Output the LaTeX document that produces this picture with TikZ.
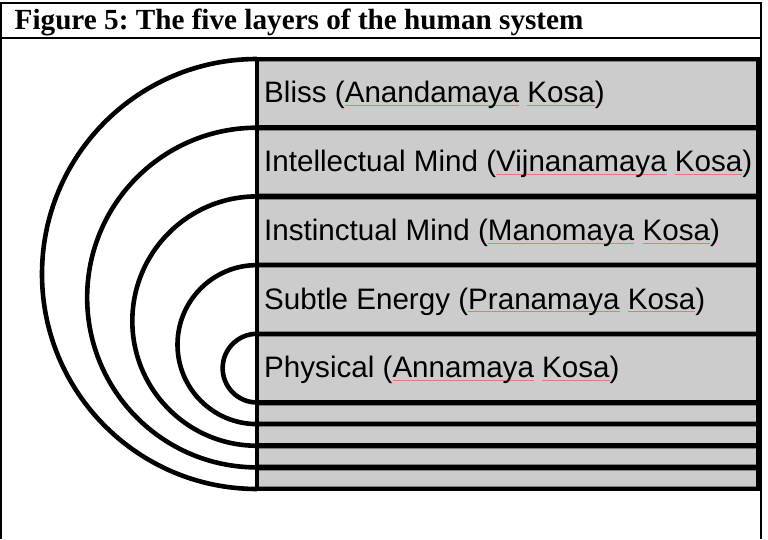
\documentclass[tikz,border=0pt]{standalone}
\usepackage{fontspec}
\setmainfont{Liberation Serif}
\newfontfamily\labelfont{Liberation Sans}
\frenchspacing
\definecolor{rowgray}{RGB}{204,204,204}
\definecolor{rimgray}{RGB}{128,128,128}
\definecolor{squig}{RGB}{232,120,120}
\newcommand\spellmark[1]{\setbox0\hbox{#1}\rlap{\textcolor{squig}{\rule[-2.8pt]{\wd0}{0.7pt}}}\box0\relax}
\tikzset{
  frameline/.style={line width=2pt,black},
  thick line/.style={line width=4.6pt,black},
  rowbox/.style={fill=rowgray,draw=rimgray,line width=0.8pt},
  layerlabel/.style={anchor=base west,inner sep=0pt,font=\labelfont\fontsize{29.6}{34}\selectfont},
  titletext/.style={anchor=base west,inner sep=0pt,font=\bfseries\fontsize{29.2}{34}\selectfont}
}
\begin{document}
\begin{tikzpicture}[x=1pt,y=1pt]
\useasboundingbox (0,0) rectangle (768,539);
% frame
\draw[frameline] (1,0) -- (1,535.5) -- (761,535.5) -- (761,0);
\draw[frameline] (1,500.5) -- (761,500.5);
\node[titletext] (title) at (14.5,509) {Figure 5: The five layers of the human system};
% row boxes
\foreach \lo/\hi in {411.3/480,342.6/411.3,273.9/342.6,205.2/273.9,136.5/205.2,114.9/136.5,93.25/114.9,71.6/93.25,50/71.6}{
  \draw[rowbox] (257,\lo+2.6) rectangle (758.5,\hi-2.6);
}
% horizontal thick lines
\foreach \yy in {480,411.3,342.6,273.9,205.2,136.5,114.9,93.25,71.6,50}{
  \draw[thick line] (257,\yy) -- (758.5,\yy);
}
% vertical lines
\draw[thick line] (257,47.7) -- (257,482.3);
\draw[thick line] (758.5,47.7) -- (758.5,482.3);
% arcs
\draw[thick line] (257,480) arc[start angle=90,end angle=270,radius=215];
\draw[thick line] (257,411.3) arc[start angle=90,end angle=270,radius=169.85];
\draw[thick line] (257,342.6) arc[start angle=90,end angle=270,radius=124.675];
\draw[thick line] (257,273.9) arc[start angle=90,end angle=270,radius=79.5];
\draw[thick line] (257,205.2) arc[start angle=90,end angle=270,radius=34.35];
% labels
\node[layerlabel] (bliss) at (264,436) {Bliss (\spellmark{Anandamaya} \spellmark{Kosa})};
\node[layerlabel] (intel) at (264,367.3) {Intellectual Mind (\spellmark{Vijnanamaya} \spellmark{Kosa})};
\node[layerlabel] (instinct) at (264,298.6) {Instinctual Mind (\spellmark{Manomaya} \spellmark{Kosa})};
\node[layerlabel] (subtle) at (264,229.9) {Subtle Energy (\spellmark{Pranamaya} \spellmark{Kosa})};
\node[layerlabel] (phys) at (264,161.2) {Physical (\spellmark{Annamaya} \spellmark{Kosa})};
\end{tikzpicture}
\end{document}
